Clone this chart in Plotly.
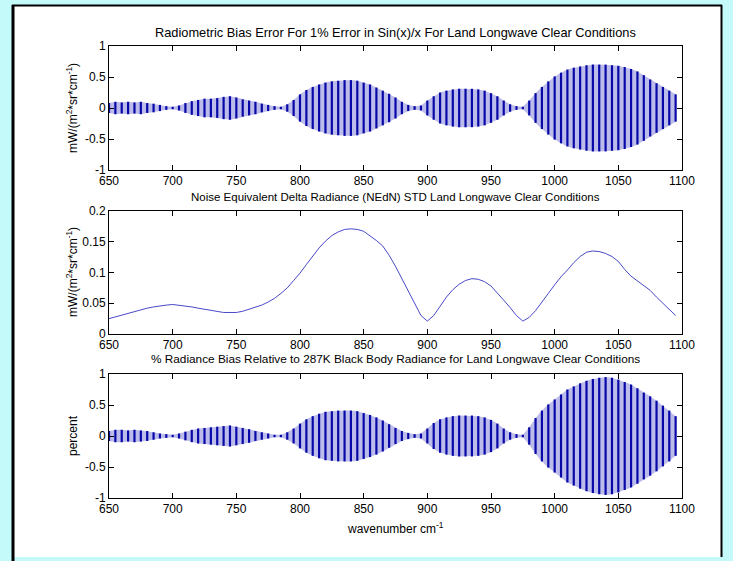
import plotly.graph_objects as go

# ---------------- data ----------------
wavenumber = [650 + 5 * i for i in range(90)]  # 650 ... 1095 cm-1

bias_env = [0.08, 0.10, 0.09, 0.10, 0.09, 0.10, 0.08, 0.07, 0.05, 0.03,
            0.02, 0.04, 0.08, 0.11, 0.13, 0.15, 0.15, 0.16, 0.18, 0.19,
            0.17, 0.14, 0.12, 0.10, 0.07, 0.05, 0.03, 0.02, 0.06, 0.13,
            0.22, 0.29, 0.34, 0.38, 0.41, 0.43, 0.44, 0.45, 0.45, 0.44,
            0.41, 0.38, 0.33, 0.28, 0.23, 0.17, 0.10, 0.05, 0.03, 0.04,
            0.12, 0.19, 0.25, 0.28, 0.30, 0.31, 0.31, 0.31, 0.30, 0.28,
            0.24, 0.19, 0.12, 0.06, 0.03, 0.02, 0.12, 0.24, 0.34, 0.43,
            0.51, 0.57, 0.62, 0.65, 0.67, 0.69, 0.70, 0.70, 0.70, 0.69,
            0.68, 0.66, 0.63, 0.59, 0.53, 0.46, 0.40, 0.34, 0.28, 0.22]

nedn = [0.025, 0.028, 0.031, 0.034, 0.037, 0.040, 0.042, 0.044, 0.046, 0.047,
        0.048, 0.047, 0.046, 0.044, 0.042, 0.040, 0.038, 0.036, 0.035, 0.035,
        0.035, 0.037, 0.040, 0.043, 0.047, 0.052, 0.058, 0.066, 0.075, 0.087,
        0.099, 0.113, 0.127, 0.140, 0.151, 0.160, 0.166, 0.170, 0.171, 0.170,
        0.167, 0.160, 0.152, 0.143, 0.128, 0.110, 0.090, 0.070, 0.049, 0.030,
        0.021, 0.030, 0.045, 0.060, 0.072, 0.081, 0.087, 0.090, 0.089, 0.085,
        0.078, 0.067, 0.055, 0.043, 0.030, 0.021, 0.027, 0.038, 0.053, 0.066,
        0.080, 0.093, 0.104, 0.116, 0.126, 0.133, 0.135, 0.134, 0.131, 0.126,
        0.118, 0.105, 0.094, 0.086, 0.079, 0.071, 0.060, 0.050, 0.040, 0.030]

pct_env = [0.08, 0.10, 0.10, 0.09, 0.10, 0.09, 0.08, 0.06, 0.04, 0.03,
           0.02, 0.04, 0.07, 0.10, 0.12, 0.13, 0.14, 0.15, 0.16, 0.17,
           0.15, 0.13, 0.11, 0.08, 0.06, 0.04, 0.02, 0.02, 0.06, 0.12,
           0.20, 0.27, 0.32, 0.36, 0.39, 0.40, 0.41, 0.41, 0.41, 0.40,
           0.37, 0.34, 0.30, 0.25, 0.19, 0.13, 0.08, 0.05, 0.03, 0.04,
           0.12, 0.21, 0.27, 0.30, 0.32, 0.33, 0.33, 0.33, 0.32, 0.30,
           0.26, 0.20, 0.12, 0.06, 0.03, 0.02, 0.14, 0.29, 0.41, 0.51,
           0.59, 0.67, 0.75, 0.80, 0.85, 0.89, 0.92, 0.94, 0.95, 0.94,
           0.91, 0.87, 0.83, 0.77, 0.70, 0.64, 0.57, 0.49, 0.41, 0.32]

x_ticks = [650, 700, 750, 800, 850, 900, 950, 1000, 1050, 1100]
pm1_ticks = [-1, -0.5, 0, 0.5, 1]
pm1_labels = ["-1", "-0.5", "0", "0.5", "1"]
nedn_ticks = [0, 0.05, 0.1, 0.15, 0.2]
nedn_labels = ["0", "0.05", "0.1", "0.15", "0.2"]

titles = [
    "Radiometric Bias Error For 1% Error in Sin(x)/x For Land Longwave Clear Conditions",
    "Noise Equivalent Delta Radiance (NEdN) STD Land Longwave Clear Conditions",
    "% Radiance Bias Relative to 287K Black Body Radiance for Land Longwave Clear Conditions",
]

# ---------------- figure ----------------
W, H = 733, 561
L, R, T, B = 109, 51, 46, 63
pw, ph = W - L - R, H - T - B


def px(xp):
    return (xp - L) / pw


def py(yp):
    return (H - B - yp) / ph


FONT = "Liberation Sans, Arial, Helvetica, sans-serif"
DARK = "#0808a8"
FILL = "rgba(95,95,205,0.42)"

fig = go.Figure()


def add_band(env, xa, ya):
    neg = [-v for v in env]
    fig.add_trace(go.Scatter(x=wavenumber, y=neg, mode="lines",
                             line=dict(width=0, color=FILL),
                             xaxis=xa, yaxis=ya, hoverinfo="skip",
                             showlegend=False))
    fig.add_trace(go.Scatter(x=wavenumber, y=env, mode="lines",
                             line=dict(width=0, color=FILL), fill="tonexty",
                             fillcolor=FILL, xaxis=xa, yaxis=ya,
                             hoverinfo="skip", showlegend=False))
    fig.add_trace(go.Scatter(x=wavenumber, y=[0] * len(env), mode="markers",
                             marker=dict(size=0.1, color=DARK),
                             error_y=dict(type="data", array=env,
                                          symmetric=True, width=0,
                                          thickness=2.2, color=DARK),
                             xaxis=xa, yaxis=ya, showlegend=False))


add_band(bias_env, "x", "y")
fig.add_trace(go.Scatter(x=wavenumber, y=nedn, mode="lines",
                         line=dict(color="rgba(40,40,190,0.85)", width=1),
                         xaxis="x2", yaxis="y2", showlegend=False))
add_band(pct_env, "x3", "y3")

domains = [
    (py(170), py(46)),
    (py(334), py(211)),
    (py(498), py(374)),
]

axis_common = dict(showline=True, linecolor="black", linewidth=1,
                   mirror="ticks", ticks="inside", ticklen=5,
                   tickcolor="black", showgrid=False, zeroline=False,
                   tickfont=dict(family=FONT, size=12, color="black"))

layout = dict(
    width=W, height=H,
    margin=dict(l=L, r=R, t=T, b=B, pad=0),
    paper_bgcolor="#c4fafa",
    plot_bgcolor="white",
    showlegend=False,
)

for i, (xa, ya, ytv, ytt, yr) in enumerate([
        ("xaxis", "yaxis", pm1_ticks, pm1_labels, [-1, 1]),
        ("xaxis2", "yaxis2", nedn_ticks, nedn_labels, [0, 0.2]),
        ("xaxis3", "yaxis3", pm1_ticks, pm1_labels, [-1, 1])]):
    suffix = "" if i == 0 else str(i + 1)
    layout[xa] = dict(axis_common, domain=[0, 1], range=[650, 1100],
                      tickvals=x_ticks, ticktext=[str(v) for v in x_ticks],
                      anchor="y" + suffix)
    layout[ya] = dict(axis_common, domain=list(domains[i]), range=yr,
                      tickvals=ytv, ticktext=ytt, anchor="x" + suffix)

fig.update_layout(**layout)

# white inner panel with black frame
fig.add_shape(type="rect", xref="paper", yref="paper",
              x0=px(14), x1=px(721), y0=py(557), y1=py(6),
              fillcolor="white", line=dict(width=0), layer="below")
fig.add_shape(type="line", xref="paper", yref="paper",
              x0=px(13), x1=px(13), y0=py(561), y1=py(5),
              line=dict(color="black", width=3))
fig.add_shape(type="line", xref="paper", yref="paper",
              x0=px(12), x1=px(722), y0=py(5.5), y1=py(5.5),
              line=dict(color="black", width=2))
fig.add_shape(type="line", xref="paper", yref="paper",
              x0=px(721.5), x1=px(721.5), y0=py(557), y1=py(5),
              line=dict(color="black", width=2))

for t, yp, fs in zip(titles, [32, 197, 359], [12.8, 11.5, 11.8]):
    fig.add_annotation(text=t, xref="paper", yref="paper", x=0.5, y=py(yp),
                       xanchor="center", yanchor="middle", showarrow=False,
                       font=dict(family=FONT, size=fs, color="black"))

ylab = "mW/(m<sup>2</sup>*sr*cm<sup>-1</sup>)"
for yp in [108, 272]:
    fig.add_annotation(text=ylab, xref="paper", yref="paper", x=px(72),
                       y=py(yp), xanchor="center", yanchor="middle",
                       textangle=-90, showarrow=False,
                       font=dict(family=FONT, size=12, color="black"))
fig.add_annotation(text="percent", xref="paper", yref="paper", x=px(73),
                   y=py(436), xanchor="center", yanchor="middle",
                   textangle=-90, showarrow=False,
                   font=dict(family=FONT, size=12, color="black"))
fig.add_annotation(text="wavenumber cm<sup>-1</sup>", xref="paper",
                   yref="paper", x=0.5, y=py(528), xanchor="center",
                   yanchor="middle", showarrow=False,
                   font=dict(family=FONT, size=12, color="black"))

fig.write_html("out.html")
